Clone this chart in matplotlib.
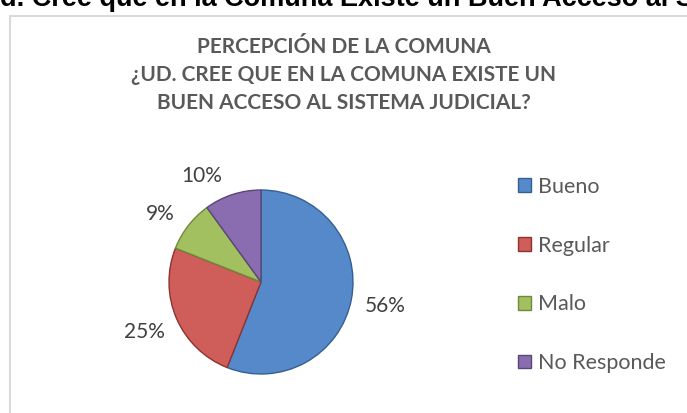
import matplotlib.pyplot as plt
from matplotlib.lines import Line2D

categorias = ['Bueno', 'Regular', 'Malo', 'No Responde']
porcentajes = [56, 25, 9, 10]
cores = ['#5689C9', '#CF5D59', '#A2C060', '#8A6DB0']
bordas = ['#365F91', '#8B3431', '#6E8A3A', '#5A4578']

titulo = 'PERCEPCIÓN DE LA COMUNA\n¿UD. CREE QUE EN LA COMUNA EXISTE UN\nBUEN ACCESO AL SISTEMA JUDICIAL?'
texto_topo = 'd. Cree que en la Comuna Existe un Buen Acceso al Sistema Judicial?'

# ajuste fino dos rótulos de porcentagem (como o "melhor ajuste" do Excel)
ajuste_rotulos = [(0, 0), (0, 0), (0, -0.11), (-0.22, -0.16)]

plt.rcParams['font.family'] = ['Lato', 'DejaVu Sans']

fig = plt.figure(figsize=(6.87, 4.13), dpi=100)

# texto cortado no topo (vem da página do documento)
fig.text(0.0, 1 - 6 / 413, texto_topo, ha='left', va='baseline', fontsize=19.5,
         fontweight='bold', color='black', family=['Liberation Sans', 'DejaVu Sans'])

# borda do gráfico (só esquerda e topo aparecem)
fig.add_artist(Line2D([9.5 / 687, 9.5 / 687, 1], [0, 1 - 16 / 413, 1 - 16 / 413],
                      transform=fig.transFigure, color='#d9d9d9', lw=1.5))

fig.text(0.5, 1 - 75 / 413, titulo, ha='center', va='center', fontsize=15,
         fontweight='bold', color='#595959', linespacing=1.52)

ax = fig.add_axes([(261 - 92) / 687, (413 - 282 - 92) / 413, 184 / 687, 184 / 413])
fatias, textos, pct = ax.pie(porcentajes, colors=cores, startangle=90, counterclock=False,
                             autopct='%1.0f%%', pctdistance=1.38,
                             wedgeprops=dict(linewidth=1.0),
                             textprops=dict(fontsize=15, color='#404040'))
for f, b in zip(fatias, bordas):
    f.set_edgecolor(b)
for t, (dx, dy) in zip(pct, ajuste_rotulos):
    x, y = t.get_position()
    t.set_position((x + dx, y + dy))
    t.set_clip_on(False)
ax.set_xlim(-1, 1)
ax.set_ylim(-1, 1)
ax.axis('off')

fig.legend(fatias, categorias, loc='upper left', bbox_to_anchor=(507 / 687, 1 - 166 / 413),
           frameon=False, fontsize=15.5, labelcolor='#595959', handlelength=0.6,
           handleheight=0.6, handletextpad=0.35, labelspacing=1.8, borderpad=0)

fig.savefig('out.png', dpi=100)
